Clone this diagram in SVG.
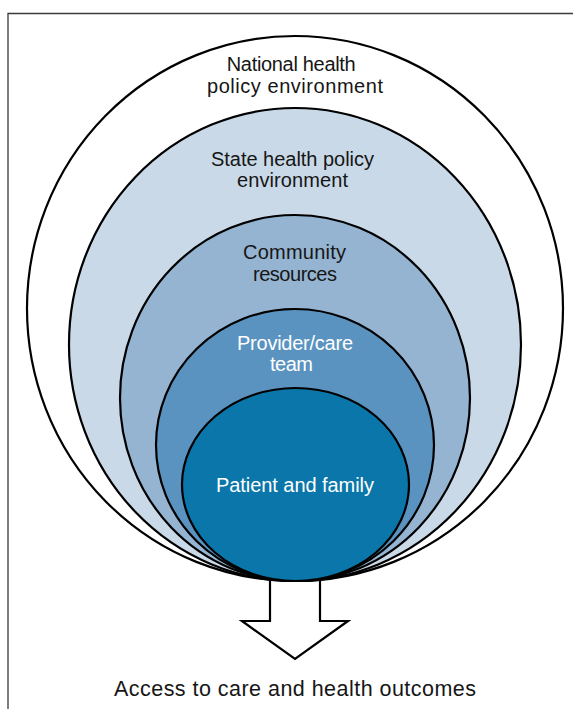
<svg xmlns="http://www.w3.org/2000/svg" width="573" height="709" viewBox="0 0 573 709">
  <style>
    .ring { stroke: #000; stroke-width: 2.2; }
    .lbl { font-family: "Liberation Sans", Arial, sans-serif; font-size: 20px; }
    .dark { fill: #161616; }
    .light { fill: #ffffff; }
    .frame { fill: none; stroke: #3a3a3a; stroke-width: 1.3; }
  </style>

  <rect width="573" height="709" fill="#ffffff"/>
  <!-- panel frame (open on right and bottom) -->
  <path class="frame" d="M8,709 V13.5 H573"/>

  <!-- arrow out of the nested levels -->
  <g id="connectors">
    <path d="M270,581 V621 H242 L295,659 L348,621 H320 V581" fill="#ffffff" stroke="#000" stroke-width="2.2" stroke-linejoin="miter"/>
  </g>

  <g id="national">
    <ellipse class="ring" cx="295" cy="308.5" rx="268" ry="272.5" fill="#ffffff"/>
    <text class="lbl dark" x="226.7" y="71" textLength="129" lengthAdjust="spacing">National health</text>
    <text class="lbl dark" x="207" y="92.5" textLength="176" lengthAdjust="spacing">policy environment</text>
  </g>

  <g id="state">
    <ellipse class="ring" cx="295" cy="344.5" rx="226" ry="236.5" fill="#c9d9e7"/>
    <text class="lbl dark" x="211" y="166" textLength="163" lengthAdjust="spacing">State health policy</text>
    <text class="lbl dark" x="237" y="187" textLength="111" lengthAdjust="spacing">environment</text>
  </g>

  <g id="community">
    <ellipse class="ring" cx="295" cy="398" rx="175" ry="183" fill="#95b4d1"/>
    <text class="lbl dark" x="243" y="259" textLength="103" lengthAdjust="spacing">Community</text>
    <text class="lbl dark" x="253" y="281" textLength="84" lengthAdjust="spacing">resources</text>
  </g>

  <g id="provider">
    <ellipse class="ring" cx="295" cy="445" rx="139" ry="136" fill="#5a93c0"/>
    <text class="lbl light" x="237" y="350" textLength="116" lengthAdjust="spacing">Provider/care</text>
    <text class="lbl light" x="270" y="371" textLength="43" lengthAdjust="spacing">team</text>
  </g>

  <g id="patient">
    <ellipse class="ring" cx="295.5" cy="484.5" rx="113.5" ry="96.5" fill="#0a76a9"/>
    <text class="lbl light" x="216" y="492" textLength="158" lengthAdjust="spacing">Patient and family</text>
  </g>

  <g id="outcome">
    <text class="lbl dark" x="114" y="696" textLength="362" lengthAdjust="spacing" style="font-size:21.5px">Access to care and health outcomes</text>
  </g>
</svg>
